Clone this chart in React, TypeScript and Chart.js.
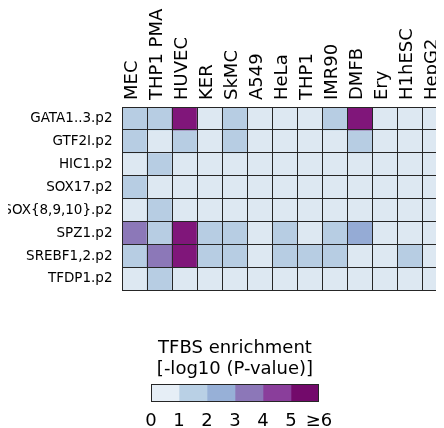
import { useEffect, useRef } from 'react';
import { Chart, registerables } from 'chart.js';

Chart.register(...registerables);

const columns = ['MEC', 'THP1 PMA', 'HUVEC', 'KER', 'SkMC', 'A549', 'HeLa', 'THP1', 'IMR90', 'DMFB', 'Ery', 'H1hESC', 'HepG2'];
const rows = ['GATA1..3.p2', 'GTF2I.p2', 'HIC1.p2', 'SOX17.p2', 'SOX{8,9,10}.p2', 'SPZ1.p2', 'SREBF1,2.p2', 'TFDP1.p2'];

// -log10(P-value) per row (one value per column)
const gata = [1.4, 1.3, 6.5, 0.4, 1.2, 0.3, 0.4, 0.3, 1.2, 6.4, 0.3, 0.4, 0.3];
const gtf2i = [1.3, 0.5, 1.2, 0.3, 1.2, 0.4, 0.3, 0.3, 0.4, 1.2, 0.3, 0.3, 0.4];
const hic1 = [0.5, 1.2, 0.4, 0.3, 0.4, 0.3, 0.3, 0.3, 0.4, 0.3, 0.3, 0.3, 0.3];
const sox17 = [1.2, 0.4, 0.3, 0.4, 0.3, 0.3, 0.3, 0.3, 0.3, 0.4, 0.3, 0.3, 0.3];
const sox8910 = [0.4, 1.2, 0.3, 0.3, 0.3, 0.3, 0.3, 0.3, 0.3, 0.3, 0.3, 0.3, 0.3];
const spz1 = [3.4, 1.3, 6.8, 1.2, 1.3, 0.4, 1.2, 0.4, 1.3, 2.4, 0.3, 0.3, 0.4];
const srebf = [1.3, 3.3, 7.0, 1.2, 1.3, 0.4, 1.2, 1.2, 1.3, 0.5, 0.3, 1.2, 0.4];
const tfdp1 = [0.4, 1.3, 0.3, 0.4, 0.3, 0.3, 0.4, 0.3, 0.3, 0.3, 0.3, 0.3, 0.3];
const values = [gata, gtf2i, hic1, sox17, sox8910, spz1, srebf, tfdp1];

const binColors = ['#dde8f2', '#b7cde3', '#95abd5', '#8c78b8', '#8a3f9c', '#80167a'];
const colorbarColors = ['#e6eef6', '#b9d0e5', '#97b0d7', '#8c77b8', '#8a3e9b', '#730a6b'];
const colorbarTicks = ['0', '1', '2', '3', '4', '5', '≥6'];
const colorbarTitle = ['TFBS enrichment', '[-log10 (P-value)]'];

const LINE = '#262626';

export default function App() {
  const heatRef = useRef<HTMLCanvasElement>(null);
  const barRef = useRef<HTMLCanvasElement>(null);

  useEffect(() => {
    Chart.defaults.font.family = "'DejaVu Sans', sans-serif";
    Chart.defaults.color = '#000';
    Chart.defaults.borderColor = 'rgba(0,0,0,0)';

    const heat = new Chart(heatRef.current!, {
      type: 'bar',
      data: {
        labels: columns,
        datasets: rows.map((r, i) => ({
          label: r,
          data: columns.map(() => [i, i + 1]),
          backgroundColor: values[i].map((v) => binColors[Math.min(5, Math.floor(v))]),
          borderWidth: 0,
          barPercentage: 1,
          categoryPercentage: 1,
          grouped: false,
          yAxisID: 'y',
        })),
      } as any,
      options: {
        responsive: false,
        animation: false,
        layout: { padding: { left: 0, top: 0, right: 6.3, bottom: 15 } },
        plugins: { legend: { display: false }, tooltip: { enabled: false } },
        scales: {
          x: {
            type: 'category',
            position: 'top',
            offset: true,
            grid: { offset: true, color: LINE, lineWidth: 1, drawTicks: false, z: 1 },
            border: { display: false },
            ticks: {
              autoSkip: false,
              minRotation: 90,
              maxRotation: 90,
              padding: 7,
              labelOffset: 19,
              font: { size: 18 },
            },
            afterFit: (s: any) => {
              s.height = 107;
              s.paddingLeft = 0;
              s.paddingRight = 0;
            },
          },
          y: {
            type: 'linear',
            position: 'right',
            min: 0,
            max: rows.length,
            reverse: true,
            afterBuildTicks: (s: any) => {
              s.ticks = rows.map((_, i) => ({ value: i })).concat([{ value: rows.length }]);
            },
            grid: { color: LINE, lineWidth: 1, drawTicks: false, z: 1 },
            border: { display: false },
            ticks: { display: false },
            afterFit: (s: any) => { s.width = 0; },
          },
          rowLabels: {
            type: 'linear',
            position: 'left',
            min: -0.5,
            max: rows.length - 0.5,
            reverse: true,
            afterBuildTicks: (s: any) => {
              s.ticks = rows.map((_, i) => ({ value: i }));
            },
            grid: { display: false, drawTicks: false },
            border: { display: false },
            ticks: { callback: (v: any) => rows[v], padding: 9.5, font: { size: 13.5 } },
            afterFit: (s: any) => { s.width = 122; },
          },
        },
      } as any,
    });

    const cb = new Chart(barRef.current!, {
      type: 'bar',
      data: {
        labels: [''],
        datasets: colorbarColors.map((c, i) => ({
          data: [[i, i + 1]],
          backgroundColor: c,
          borderWidth: 0,
          barPercentage: 1,
          categoryPercentage: 1,
          grouped: false,
        })),
      } as any,
      options: {
        indexAxis: 'y',
        responsive: false,
        animation: false,
        layout: { padding: { left: 151, right: 125, top: 19.2, bottom: 0 } },
        plugins: {
          legend: { display: false },
          tooltip: { enabled: false },
          title: {
            display: true,
            text: colorbarTitle,
            color: '#000',
            font: { size: 18, weight: 'normal', lineHeight: 1.2 },
            padding: { top: 10, bottom: 3.6 },
          },
        },
        scales: {
          x: {
            type: 'linear',
            min: 0,
            max: colorbarTicks.length - 1,
            afterBuildTicks: (s: any) => {
              s.ticks = colorbarTicks.map((_, i) => ({ value: i }));
            },
            ticks: {
              callback: (v: any) => colorbarTicks[v],
              font: { size: 18 },
              padding: 9,
              autoSkip: false,
              minRotation: 0,
              maxRotation: 0,
            },
            grid: { display: false, drawTicks: false },
            border: { display: false },
            afterFit: (s: any) => {
              s.height = 26.3;
              s.paddingLeft = 0;
              s.paddingRight = 0;
            },
          },
          y: { display: false },
        },
      } as any,
      plugins: [
        {
          id: 'outline',
          afterDatasetsDraw(chart: any) {
            const { ctx, chartArea: a } = chart;
            ctx.save();
            ctx.strokeStyle = LINE;
            ctx.lineWidth = 1;
            const l = Math.round(a.left) + 0.5;
            const t = Math.round(a.top) + 0.5;
            const r = Math.round(a.right) - 0.5;
            const b = Math.round(a.bottom) - 0.5;
            ctx.strokeRect(l, t, r - l, b - t);
            ctx.restore();
          },
        },
      ],
    });

    return () => {
      heat.destroy();
      cb.destroy();
    };
  }, []);

  return (
    <div style={{ margin: '-8px 0 0 -8px', width: 444, height: 428, overflow: 'hidden' }}>
      <canvas ref={heatRef} width={454} height={308} style={{ display: 'block', width: 454, height: 308 }} />
      <canvas ref={barRef} width={444} height={120} style={{ display: 'block', width: 444, height: 120 }} />
    </div>
  );
}
